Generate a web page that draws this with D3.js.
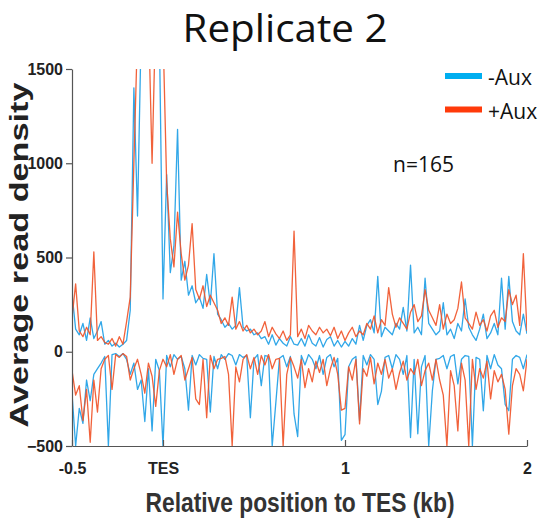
<!DOCTYPE html>
<html>
<head>
<meta charset="utf-8">
<script src="https://cdn.jsdelivr.net/npm/d3@7"></script>
<style>
  body { margin: 0; background: #fff; }
  svg { display: block; }
</style>
</head>
<body>
<svg id="chart" width="552" height="522"></svg>
<script>
// bins every 20 bp from -0.5 kb to 2.0 kb
const positions = d3.range(126).map((i) => -0.5 + i * 0.02);

// -Aux, sense strand (above zero)
const minusAuxPos = [
  310, 120, 90, 150, 60, 180, 70, 110, 160, 40,
  60, 30, 45, 25, 40, 60, 220, 1400, 720, 1700,
  1800, 1700, 1800, 1800, 1700, 280, 940, 420, 560, 1180,
  380, 480, 300, 350, 260, 290, 230, 410, 250, 520,
  200, 170, 130, 150, 120, 140, 340, 130, 110, 120,
  90, 100, 70, 80, 40, 90, 35, 70, 45, 30,
  80, 40, 35, 70, 30, 90, 45, 30, 75, 25,
  65, 80, 30, 60, 25, 55, 30, 70, 40, 140,
  60, 140, 170, 100, 400, 80, 130, 110, 90, 150,
  120, 235, 110, 460, 100, 130, 90, 390, 150, 120,
  90, 110, 260, 90, 120, 70, 150, 110, 280, 130,
  90, 60, 120, 200, 70, 100, 150, 90, 390, 120,
  400, 160, 110, 90, 200, 95
];

// -Aux, antisense strand (below zero)
const minusAuxNeg = [
  -220, -500, -300, -380, -150, -260, -120, -90, -60, -25,
  -500, -15, -10, -25, -10, -40, -120, -60, -200, -150,
  -370, -90, -420, -40, -100, -500, -20, -80, -15, -40,
  -25, -90, -310, -20, -70, -15, -35, -40, -320, -25,
  -90, -15, -40, -10, -20, -70, -15, -30, -20, -350,
  -40, -15, -180, -20, -25, -500, -270, -35, -20, -80,
  -25, -330, -450, -20, -70, -15, -40, -90, -20, -120,
  -30, -15, -80, -35, -470, -440, -80, -40, -25, -365,
  -20, -70, -15, -40, -280, -210, -30, -20, -90, -15,
  -40, -120, -20, -455, -40, -435, -80, -20, -500, -207,
  -40, -35, -20, -90, -25, -15, -170, -40, -20, -25,
  -500, -30, -40, -313, -20, -90, -15, -70, -90, -280,
  -313, -40, -20, -30, -90, -15
];

// +Aux, sense strand (above zero)
const plusAuxPos = [
  180, 360, 110, 80, 130, 90, 530, 60, 80, 50,
  40, 70, 30, 80, 40, 160, 290, 1000, 1700, 1800,
  1700, 1800, 1000, 1800, 1800, 1700, 900, 600, 450, 740,
  520, 380, 460, 680, 330, 280, 350, 240, 300, 260,
  220, 150, 180, 140, 290, 120, 160, 110, 140, 100,
  120, 90, 110, 160, 80, 130, 95, 70, 110, 60,
  90, 640, 80, 120, 70, 140, 110, 90, 130, 100,
  120, 85, 130, 70, 110, 60, 100, 130, 80, 110,
  90, 150, 120, 190, 100, 170, 140, 340, 200, 130,
  180, 150, 120, 210, 250, 160, 190, 330, 220, 180,
  140, 250, 120, 200, 150, 170, 230, 370, 180, 150,
  120, 210, 140, 170, 110, 190, 220, 130, 180, 160,
  330, 250, 300, 140, 520, 110
];

// +Aux, antisense strand (below zero)
const plusAuxNeg = [
  -100, -230, -180, -365, -200, -480, -150, -320, -90, -40,
  -20, -200, -15, -30, -10, -25, -150, -90, -40, -120,
  -220, -60, -130, -290, -100, -40, -80, -15, -120, -40,
  -20, -150, -90, -30, -250, -280, -40, -350, -20, -90,
  -40, -35, -25, -120, -500, -80, -160, -40, -15, -90,
  -30, -120, -20, -70, -15, -90, -40, -35, -500, -120,
  -30, -80, -140, -40, -190, -90, -160, -50, -110, -40,
  -180, -90, -30, -120, -310, -300, -80, -150, -40, -383,
  -90, -130, -30, -170, -60, -120, -40, -140, -90, -200,
  -110, -50, -150, -90, -120, -40, -180, -100, -60, -150,
  -40, -150, -230, -500, -100, -180, -420, -60, -150, -500,
  -40, -200, -90, -140, -50, -250, -100, -160, -120, -200,
  -437, -180, -90, -120, -207, -40
];

const yTicks = [1500, 1000, 500, 0, -500];
const xTicks = [-0.5, 0, 1, 2];
const xTickLabels = ["-0.5", "TES", "1", "2"];

const legendItems = [
  { label: "-Aux", color: "#00aef0" },
  { label: "+Aux", color: "#ff3a0a" },
];

const svg = d3.select("#chart");
const margin = { top: 69, right: 25, bottom: 76, left: 72 };
const width = +svg.attr("width");
const height = +svg.attr("height");

const x = d3
  .scaleLinear()
  .domain([-0.5, 2])
  .range([margin.left, width - margin.right]);

const y = d3
  .scaleLinear()
  .domain([-500, 1500])
  .range([height - margin.bottom, margin.top]);

svg
  .append("defs")
  .append("clipPath")
  .attr("id", "plot-clip")
  .append("rect")
  .attr("x", margin.left)
  .attr("y", margin.top)
  .attr("width", x(2) - x(-0.5))
  .attr("height", y(-500) - y(1500));

const line = d3
  .line()
  .x((d, i) => x(positions[i]))
  .y((d) => y(d));

const traces = [
  { values: minusAuxPos, color: "#1f9fe6" },
  { values: minusAuxNeg, color: "#1f9fe6" },
  { values: plusAuxPos, color: "#f0552a" },
  { values: plusAuxNeg, color: "#f0552a" },
];

svg
  .append("g")
  .attr("clip-path", "url(#plot-clip)")
  .selectAll("path")
  .data(traces)
  .join("path")
  .attr("d", (d) => line(d.values))
  .attr("fill", "none")
  .attr("stroke", (d) => d.color)
  .attr("stroke-width", 1.3)
  .attr("stroke-linejoin", "round")
  .attr("opacity", 0.92);

// axes
const tickFont = "'Liberation Sans Narrow', 'Arial Narrow', 'Liberation Sans', Arial, sans-serif";

const yAxis = svg
  .append("g")
  .attr("transform", `translate(${margin.left},0)`)
  .call(
    d3
      .axisLeft(y)
      .tickValues(yTicks)
      .tickFormat(d3.format("d"))
      .tickSize(6)
      .tickSizeOuter(0)
  );

yAxis.select(".domain").attr("stroke", "#555").attr("stroke-width", 1.2);
yAxis.selectAll(".tick line").attr("stroke", "#555").attr("stroke-width", 1.2);
yAxis
  .selectAll("text")
  .attr("x", -9)
  .style("font-family", tickFont)
  .style("font-weight", "bold")
  .style("font-size", "16px")
  .attr("fill", "#222");

const xAxis = svg
  .append("g")
  .attr("transform", `translate(0,${height - margin.bottom})`)
  .call(
    d3
      .axisBottom(x)
      .tickValues(xTicks)
      .tickFormat((d, i) => xTickLabels[i])
      .tickSize(-6)
      .tickSizeOuter(0)
  );

xAxis.select(".domain").attr("stroke", "#555").attr("stroke-width", 1.2);
xAxis.selectAll(".tick line").attr("stroke", "#555").attr("stroke-width", 1.2);
xAxis
  .selectAll("text")
  .attr("y", 17)
  .style("font-family", tickFont)
  .style("font-weight", "bold")
  .style("font-size", "16px")
  .attr("fill", "#222");

// axis titles
svg
  .append("text")
  .attr("transform", "translate(28,255) rotate(-90)")
  .attr("text-anchor", "middle")
  .attr("textLength", 345)
  .attr("lengthAdjust", "spacingAndGlyphs")
  .style("font-family", "'Liberation Sans', Arial, sans-serif")
  .style("font-weight", "bold")
  .style("font-size", "25px")
  .attr("fill", "#222")
  .text("Average read density");

svg
  .append("text")
  .attr("x", 300)
  .attr("y", 512)
  .attr("text-anchor", "middle")
  .attr("textLength", 309)
  .attr("lengthAdjust", "spacingAndGlyphs")
  .style("font-family", "'Liberation Sans', Arial, sans-serif")
  .style("font-weight", "bold")
  .style("font-size", "28px")
  .attr("fill", "#333")
  .text("Relative position to TES (kb)");

// title
svg
  .append("text")
  .attr("x", 285)
  .attr("y", 42)
  .attr("text-anchor", "middle")
  .attr("textLength", 205)
  .attr("lengthAdjust", "spacingAndGlyphs")
  .style("font-family", "'Open Sans', 'Noto Sans', sans-serif")
  .style("font-size", "39px")
  .attr("fill", "#111")
  .text("Replicate 2");

// legend
const legend = svg
  .selectAll(".legend")
  .data(legendItems)
  .join("g")
  .attr("class", "legend")
  .attr("transform", (d, i) => `translate(445,${76 + i * 33.5})`);

legend
  .append("line")
  .attr("x1", 0)
  .attr("x2", 37)
  .attr("stroke", (d) => d.color)
  .attr("stroke-width", 6);

legend
  .append("text")
  .attr("x", 43)
  .attr("y", 9)
  .style("font-family", "'Open Sans', 'Noto Sans', sans-serif")
  .style("font-size", "21px")
  .attr("fill", "#111")
  .text((d) => d.label);

svg
  .append("text")
  .attr("x", 393)
  .attr("y", 172)
  .style("font-family", "'Open Sans', 'Noto Sans', sans-serif")
  .style("font-size", "21px")
  .attr("fill", "#111")
  .text("n=165");
</script>
</body>
</html>
